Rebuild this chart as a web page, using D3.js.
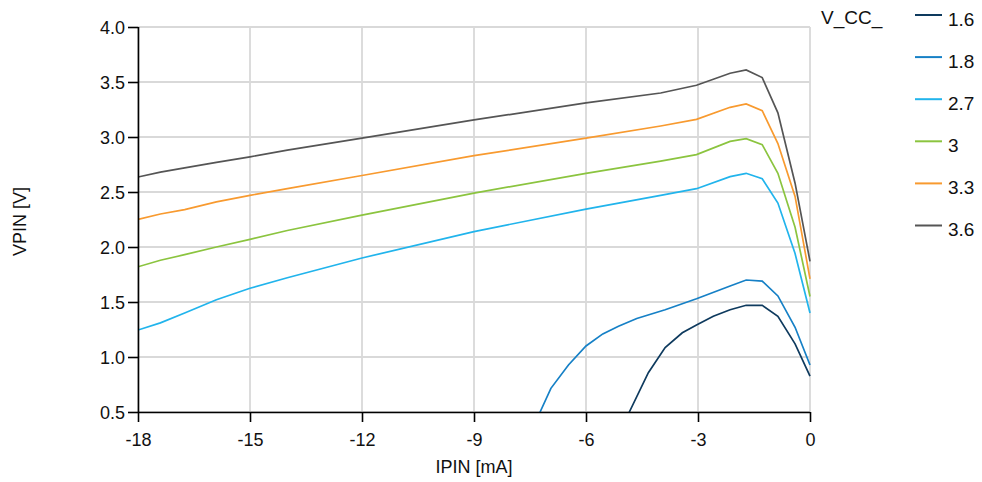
<!DOCTYPE html>
<html><head><meta charset="utf-8">
<script src="https://cdn.jsdelivr.net/npm/d3@7"></script>
<style>
body{margin:0;background:#fff;}
text{font-family:"Liberation Sans",Arial,sans-serif;}
</style></head>
<body><svg id="c" width="982" height="482"></svg>
<script>
const seriesNames = ["1.6","1.8","2.7","3","3.3","3.6"];
const seriesColors = ["#0e3a5e","#1680c6","#21b4ec","#8bc43f","#f89a2f","#555555"];
const xTicks = [-18,-15,-12,-9,-6,-3,0];
const yTicks = [0.5,1.0,1.5,2.0,2.5,3.0,3.5,4.0];

const ipin_16 = [-5.1,-4.84,-4.33,-3.88,-3.42,-3.04,-2.59,-2.14,-1.71,-1.28,-0.86,-0.4,0];
const vpin_16 = [0.32,0.50,0.857,1.085,1.22,1.29,1.37,1.43,1.47,1.47,1.37,1.12,0.827];

const ipin_18 = [-7.5,-7.23,-6.94,-6.47,-6.0,-5.55,-5.13,-4.64,-3.88,-3.04,-2.14,-1.71,-1.28,-0.86,-0.4,0];
const vpin_18 = [0.30,0.50,0.715,0.927,1.10,1.21,1.28,1.35,1.43,1.53,1.645,1.70,1.69,1.555,1.27,0.927];

const ipin_hi = [-18,-17.4,-16.75,-15.9,-15,-14,-12,-9,-6,-4,-3.04,-2.14,-1.71,-1.28,-0.86,-0.4,0];
const vpin_27 = [1.245,1.31,1.40,1.52,1.625,1.72,1.90,2.14,2.345,2.47,2.53,2.64,2.67,2.62,2.40,1.94,1.40];
const vpin_30 = [1.82,1.88,1.93,2.00,2.07,2.15,2.29,2.49,2.67,2.78,2.84,2.96,2.985,2.93,2.67,2.18,1.55];
const vpin_33 = [2.25,2.30,2.34,2.41,2.47,2.53,2.65,2.83,2.99,3.10,3.16,3.27,3.30,3.24,2.94,2.46,1.71];
const vpin_36 = [2.636,2.68,2.72,2.77,2.82,2.88,2.99,3.155,3.31,3.40,3.47,3.58,3.609,3.54,3.22,2.58,1.87];

const data = [
  {name:seriesNames[0], x:ipin_16, y:vpin_16},
  {name:seriesNames[1], x:ipin_18, y:vpin_18},
  {name:seriesNames[2], x:ipin_hi, y:vpin_27},
  {name:seriesNames[3], x:ipin_hi, y:vpin_30},
  {name:seriesNames[4], x:ipin_hi, y:vpin_33},
  {name:seriesNames[5], x:ipin_hi, y:vpin_36}
];

const svg = d3.select("#c");
const L=138, R=810, T=27, B=412;
const x = d3.scaleLinear().domain([-18,0]).range([L,R]);
const y = d3.scaleLinear().domain([0.5,4.0]).range([B,T]);

// grid
svg.append("g").selectAll("line").data(xTicks).join("line")
  .attr("x1",d=>x(d)).attr("x2",d=>x(d)).attr("y1",T).attr("y2",B)
  .attr("stroke","#d9d9d9").attr("stroke-width",1.8);
svg.append("g").selectAll("line").data(yTicks).join("line")
  .attr("x1",L).attr("x2",R).attr("y1",d=>y(d)).attr("y2",d=>y(d))
  .attr("stroke","#d9d9d9").attr("stroke-width",1.8);

svg.append("clipPath").attr("id","clip").append("rect")
  .attr("x",L).attr("y",T-5).attr("width",R-L+2).attr("height",B-T+5);

const line = d3.line().x(d=>x(d[0])).y(d=>y(d[1]));
svg.append("g").attr("clip-path","url(#clip)").selectAll("path").data(data).join("path")
  .attr("d",s=>line(s.x.map((v,i)=>[v,s.y[i]])))
  .attr("fill","none").attr("stroke",(s,i)=>seriesColors[i]).attr("stroke-width",1.7);

// axes
const xa = svg.append("g").attr("transform",`translate(0,${B})`)
  .call(d3.axisBottom(x).tickValues(xTicks).tickSize(10).tickFormat(d=>String(d)));
const ya = svg.append("g").attr("transform",`translate(${L},0)`)
  .call(d3.axisLeft(y).tickValues(yTicks).tickSize(10).tickFormat(d3.format(".1f")));
[xa,ya].forEach(a=>{
  a.select(".domain").attr("stroke","#000").attr("stroke-width",1.6);
  a.selectAll(".tick line").attr("stroke","#000").attr("stroke-width",1.6);
  a.selectAll(".tick text").attr("font-size",18).attr("fill","#111")
   .attr("font-family","'Liberation Sans',Arial,sans-serif");
});
xa.selectAll(".tick text").attr("y",0).attr("dy",null).attr("transform","translate(0,34)");
ya.selectAll(".tick text").attr("x",-13).attr("dy","0.35em");
xa.select(".domain").attr("d",`M${L},0.5H${R}`);
ya.select(".domain").attr("d",`M0.5,${B}V${T}`);

svg.append("text").attr("x",474).attr("y",473).attr("text-anchor","middle")
  .attr("font-size",18).attr("fill","#111").text("IPIN [mA]");
svg.append("text").attr("transform",`translate(26,${(T+B)/2+2}) rotate(-90)`)
  .attr("text-anchor","middle").attr("font-size",18).attr("fill","#111").text("VPIN [V]");

// legend
svg.append("text").attr("x",821).attr("y",24).attr("font-size",19).attr("fill","#111").text("V_CC_");
const lg = svg.append("g").selectAll("g").data(seriesNames).join("g")
  .attr("transform",(d,i)=>`translate(915,${15+i*42.1})`);
lg.append("line").attr("x1",0).attr("x2",27).attr("y1",0).attr("y2",0)
  .attr("stroke",(d,i)=>seriesColors[i]).attr("stroke-width",2);
lg.append("text").attr("x",33).attr("y",10.5).attr("font-size",19).attr("fill","#111").text(d=>d);
</script></body></html>
